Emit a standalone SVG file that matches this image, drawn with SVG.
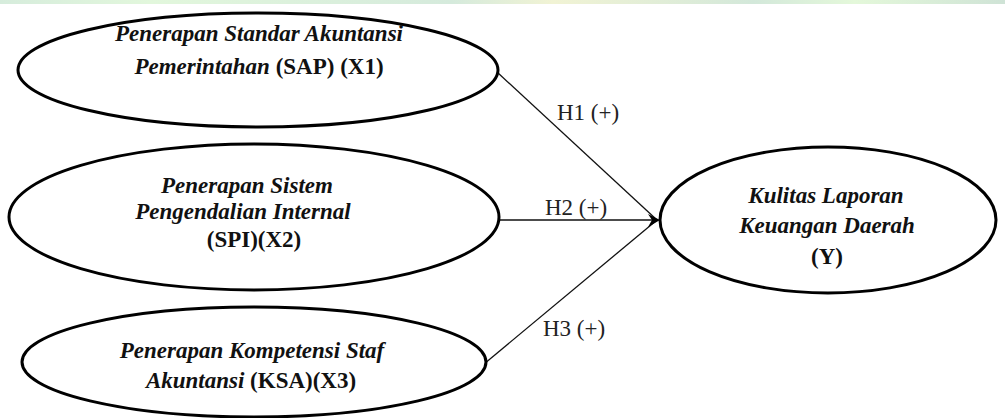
<svg xmlns="http://www.w3.org/2000/svg" width="1005" height="418" viewBox="0 0 1005 418">
<style>
.node{fill:#fff;stroke:#000;stroke-width:3}
.t{font-family:"Liberation Serif","Times New Roman",serif;font-size:23px;fill:#111;text-anchor:middle}
.i{font-style:italic;font-weight:bold}
.n{font-style:normal;font-weight:bold}
.lbl{font-family:"Liberation Serif","Times New Roman",serif;font-size:23px;fill:#222}
.edge{stroke:#111;stroke-width:1.3;fill:none}
</style>
<defs>
<linearGradient id="band" x1="0" y1="0" x2="1" y2="0">
<stop offset="0" stop-color="#d6ecdc"/>
<stop offset="0.15" stop-color="#e2f7dc"/>
<stop offset="0.45" stop-color="#d5eadc"/>
<stop offset="0.55" stop-color="#f1f3d4"/>
<stop offset="0.75" stop-color="#d3e8da"/>
<stop offset="0.85" stop-color="#e4f8da"/>
<stop offset="1" stop-color="#cfe3d6"/>
</linearGradient>
</defs>
<rect width="1005" height="418" fill="#fff"/>
<rect width="1005" height="4" fill="url(#band)"/>
<g id="connectors">
<line class="edge" x1="497" y1="72" x2="657" y2="220"/>
<line class="edge" x1="498" y1="220" x2="657" y2="220"/>
<line class="edge" x1="484" y1="364" x2="657" y2="220"/>
<path d="M648 214 L660 220 L648 227 L652 220 Z" fill="#000"/>
<text class="lbl" x="557" y="120">H1 (+)</text>
<text class="lbl" x="545" y="215">H2 (+)</text>
<text class="lbl" x="543" y="336">H3 (+)</text>
</g>
<g id="x1">
<ellipse class="node" cx="258" cy="70" rx="240" ry="57"/>
<text class="t i" x="259" y="41">Penerapan Standar Akuntansi</text>
<text class="t" x="259" y="74"><tspan class="i">Pemerintahan</tspan><tspan class="n"> (SAP) (X1)</tspan></text>
</g>
<g id="x2">
<ellipse class="node" cx="254" cy="217" rx="245" ry="73"/>
<text class="t i" x="247" y="193">Penerapan Sistem</text>
<text class="t i" x="243" y="219">Pengendalian Internal</text>
<text class="t n" x="254" y="247">(SPI)(X2)</text>
</g>
<g id="x3">
<ellipse class="node" cx="254" cy="362" rx="232" ry="55"/>
<text class="t i" x="252" y="358">Penerapan Kompetensi Staf</text>
<text class="t" x="251" y="388"><tspan class="i">Akuntansi</tspan><tspan class="n"> (KSA)(X3)</tspan></text>
</g>
<g id="y">
<ellipse class="node" cx="828" cy="220" rx="168" ry="73"/>
<text class="t i" x="826" y="203">Kulitas Laporan</text>
<text class="t i" x="827" y="233">Keuangan Daerah</text>
<text class="t n" x="827" y="264">(Y)</text>
</g>
</svg>
